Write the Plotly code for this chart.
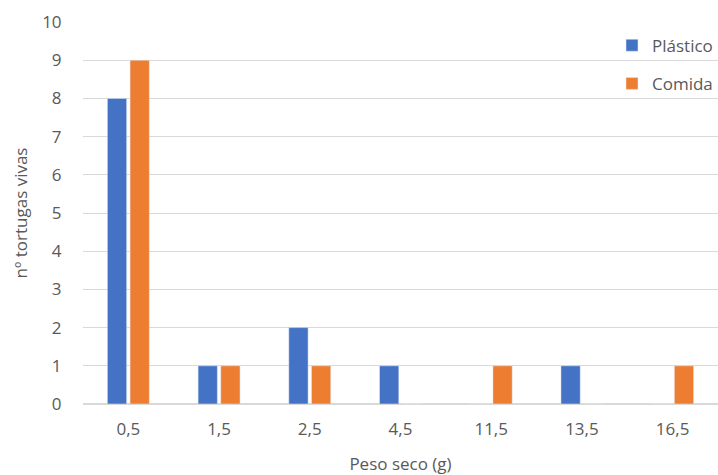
import plotly.graph_objects as go

categories = ["0,5", "1,5", "2,5", "4,5", "11,5", "13,5", "16,5"]
plastico = [8, 1, 2, 1, 0, 1, 0]
comida = [9, 1, 1, 0, 1, 0, 1]
y_ticks = list(range(0, 11))

FONT = "Open Sans"
GRAY = "#595959"
FS = 17

fig = go.Figure()
fig.add_trace(go.Bar(name="Plástico", x=categories, y=plastico,
                     marker_color="#4472C4", legendgroup="a"))
fig.add_trace(go.Bar(name="Comida", x=categories, y=comida,
                     marker_color="#ED7D31", legendgroup="b"))

fig.update_layout(
    width=718, height=475,
    margin=dict(l=83, r=0, t=22, b=71),
    paper_bgcolor="white", plot_bgcolor="white",
    barmode="group", bargap=0.5, bargroupgap=0.15,
    font=dict(family=FONT, size=FS, color=GRAY),
    showlegend=True,
    legend=dict(x=1.0, xanchor="right", y=0.985, yanchor="top",
                bgcolor="rgba(0,0,0,0)", font=dict(size=FS, color=GRAY),
                tracegroupgap=13, itemwidth=30),
    xaxis=dict(title=dict(text="Peso seco (g)", standoff=19, font=dict(size=FS, color=GRAY)),
               showgrid=False, showline=False, ticks="outside", ticklen=10,
               tickcolor="rgba(0,0,0,0)", tickfont=dict(size=FS, color=GRAY)),
    yaxis=dict(title=dict(text="nº tortugas vivas", standoff=10, font=dict(size=FS, color=GRAY)),
               range=[0, 10], tickvals=y_ticks, showgrid=True, gridcolor="#D9D9D9",
               zeroline=True, zerolinecolor="#D9D9D9", showline=False,
               ticks="outside", ticklen=17, tickcolor="rgba(0,0,0,0)",
               tickfont=dict(size=FS, color=GRAY)),
)

fig.write_html("out.html", config={"displayModeBar": False},
               post_script="document.body.style.margin='0';")
